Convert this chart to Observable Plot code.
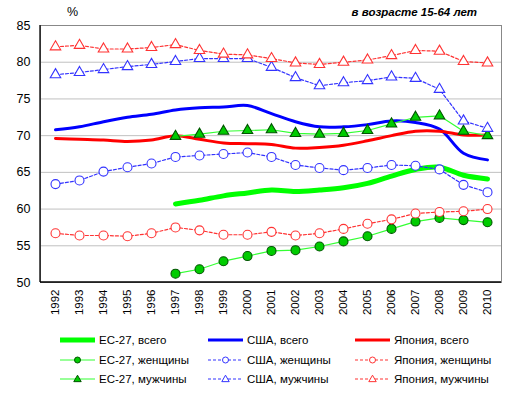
<!DOCTYPE html>
<html><head><meta charset="utf-8">
<script src="https://cdn.jsdelivr.net/npm/d3@7"></script>
<script src="https://cdn.jsdelivr.net/npm/@observablehq/plot@0.6"></script>
<style>
body{margin:0;background:#fff;font-family:"Liberation Sans",Arial,sans-serif;}
#wrap{position:relative;width:516px;height:394px;overflow:hidden;}
#chart{position:absolute;left:0;top:0;}
.t{position:absolute;font-size:12px;color:#000;white-space:nowrap;}
.leg{position:absolute;font-size:11.5px;white-space:nowrap;display:flex;align-items:center;}
.leg svg{margin-right:3px;}
</style></head><body><div id="wrap"><div id="chart"></div></div>
<script>
const years = [1992,1993,1994,1995,1996,1997,1998,1999,2000,2001,2002,2003,2004,2005,2006,2007,2008,2009,2010];
const euTotal   = [null,null,null,null,null,60.7,61.2,61.8,62.2,62.6,62.4,62.6,62.9,63.5,64.5,65.4,65.7,64.6,64.1];
const usaTotal  = [70.8,71.2,71.9,72.5,72.9,73.5,73.8,73.9,74.1,73.0,71.9,71.2,71.2,71.5,72.0,71.8,70.9,67.6,66.7];
const jpTotal   = [69.6,69.5,69.4,69.2,69.4,70.0,69.5,69.0,68.9,68.8,68.3,68.4,68.7,69.3,70.0,70.6,70.6,70.1,70.1];
const euWomen   = [null,null,null,null,null,51.2,51.8,52.9,53.6,54.3,54.4,54.9,55.6,56.3,57.3,58.3,58.8,58.5,58.2];
const usaWomen  = [63.4,63.9,65.1,65.7,66.2,67.1,67.3,67.5,67.7,67.1,66.0,65.6,65.3,65.6,66.0,65.9,65.4,63.3,62.3];
const jpWomen   = [56.7,56.4,56.4,56.3,56.7,57.5,57.1,56.5,56.5,56.9,56.4,56.7,57.3,58.0,58.6,59.4,59.6,59.7,60.0];
const euMen     = [null,null,null,null,null,69.9,70.2,70.6,70.7,70.8,70.3,70.2,70.3,70.7,71.6,72.5,72.7,70.6,70.0];
const usaMen    = [78.3,78.6,79.0,79.4,79.7,80.1,80.5,80.5,80.5,79.3,77.9,76.8,77.2,77.5,78.0,77.8,76.3,72.0,71.0];
const jpMen     = [82.1,82.3,81.8,81.8,82.0,82.4,81.6,81.1,81.0,80.5,79.9,79.7,80.0,80.3,80.9,81.6,81.5,80.1,79.9];
const yTicks = [50,55,60,65,70,75,80,85];
const gridLines = [55,60,65,70,75,80];
const seriesNames = ["ЕС-27, всего","США, всего","Япония, всего","ЕС-27, женщины","США, женщины","Япония, женщины","ЕС-27, мужчины","США, мужчины","Япония, мужчины"];
const titleLeft = "%";
const titleRight = "в возрасте 15-64 лет";

const toRows = arr => years.map((y,i)=>({year:y, value:arr[i]})).filter(d=>d.value!=null);

const GREENLINE="#33ff33", MK="#00cc00", MKS="#005500";
const BLUE="#0000ff", BLUED="#3333ff", RED="#ff0000", REDD="#ff3333";

const styles = [
  {data:euTotal, stroke:"#00ff00", sw:5, curve:"catmull-rom"},
  {data:usaTotal, stroke:BLUE, sw:3, curve:"catmull-rom"},
  {data:jpTotal, stroke:RED, sw:3, curve:"catmull-rom"},
  {data:euWomen, stroke:GREENLINE, sw:1.2, sym:"circle", fill:MK, ms:MKS},
  {data:usaWomen, stroke:BLUED, sw:1.2, dash:"3,2", sym:"circle", fill:"white", ms:BLUED},
  {data:jpWomen, stroke:REDD, sw:1.2, dash:"3,2", sym:"circle", fill:"white", ms:REDD},
  {data:euMen, stroke:GREENLINE, sw:1.2, sym:"triangle", fill:MK, ms:MKS},
  {data:usaMen, stroke:BLUED, sw:1.2, dash:"3,2", sym:"triangle", fill:"white", ms:BLUED},
  {data:jpMen, stroke:REDD, sw:1.2, dash:"3,2", sym:"triangle", fill:"white", ms:REDD}
];

const marks = [
  Plot.ruleY(gridLines, {stroke:"#c0c0c0", strokeWidth:1}),
  Plot.frame({stroke:"#888888"}),
  (index, scales, values, dims) => {
    const g = d3.create("svg:g");
    const x0 = dims.marginLeft, y1 = dims.height - dims.marginBottom, x1 = dims.width - dims.marginRight;
    g.append("line").attr("x1",x0).attr("x2",x0).attr("y1",dims.marginTop).attr("y2",y1).attr("stroke","black").attr("stroke-width",1.3);
    g.append("line").attr("x1",x0).attr("x2",x1).attr("y1",y1).attr("y2",y1).attr("stroke","black").attr("stroke-width",1.3);
    return g.node();
  },
  Plot.axisY({ticks:yTicks, tickSize:0, tickPadding:10, fontSize:12.5, label:null, tickFormat:d=>String(d)}),
  Plot.axisX({tickRotate:-90, tickSize:0, tickPadding:7, fontSize:11.5, label:null, tickFormat:d=>String(d)})
];
for (const s of styles) {
  const rows = toRows(s.data);
  marks.push(Plot.line(rows, {x:"year", y:"value", stroke:s.stroke, strokeWidth:s.sw, strokeDasharray:s.dash, curve:s.curve||"linear", strokeLinejoin:"round"}));
}
for (const s of styles) {
  if (!s.sym) continue;
  const rows = toRows(s.data);
  marks.push(Plot.dot(rows, {x:"year", y:"value", symbol:s.sym, r:s.sym==="circle"?4.5:3.9, fill:s.fill, stroke:s.ms, strokeWidth:1.1}));
}

const chart = Plot.plot({
  width:516, height:320,
  marginTop:25, marginBottom:38, marginLeft:40, marginRight:15,
  style:{fontFamily:"'Liberation Sans', Arial, sans-serif", fontSize:"12px", color:"#000", background:"white"},
  x:{type:"point", domain:years, padding:0.5, label:null},
  y:{domain:[50,85], label:null},
  marks
});
const wrap = document.getElementById("wrap");
document.getElementById("chart").appendChild(chart);

const tl = document.createElement("div"); tl.className="t"; tl.textContent=titleLeft;
tl.style.left="67px"; tl.style.top="5px"; tl.style.fontSize="12.5px"; wrap.appendChild(tl);
const tr = document.createElement("div"); tr.className="t"; tr.textContent=titleRight;
tr.style.right="39px"; tr.style.top="6px"; tr.style.fontWeight="bold"; tr.style.fontStyle="italic"; tr.style.fontSize="11.5px"; wrap.appendChild(tr);

// legend
const colX = [59, 207, 354];
const rowY = [340, 359.5, 378.5];
styles.forEach((s,i)=>{
  const col = i%3, row = Math.floor(i/3);
  const div = document.createElement("div"); div.className="leg";
  div.style.left = colX[col]+"px"; div.style.top = (rowY[row]-8)+"px"; div.style.height="16px";
  const sv = d3.create("svg").attr("width",37).attr("height",16);
  sv.append("line").attr("x1",1).attr("x2",36).attr("y1",8).attr("y2",8).attr("stroke",s.stroke)
    .attr("stroke-width",s.sw).attr("stroke-dasharray",s.dash||null);
  if (s.sym==="circle") sv.append("circle").attr("cx",18.5).attr("cy",8).attr("r",3).attr("fill",s.fill).attr("stroke",s.ms).attr("stroke-width",1);
  if (s.sym==="triangle") sv.append("path").attr("d",d3.symbol(d3.symbolTriangle,24)()).attr("transform","translate(18.5,8.5)").attr("fill",s.fill).attr("stroke",s.ms).attr("stroke-width",1);
  div.appendChild(sv.node());
  const sp = document.createElement("span"); sp.textContent = seriesNames[i]; div.appendChild(sp);
  wrap.appendChild(div);
});
</script>
</body></html>
